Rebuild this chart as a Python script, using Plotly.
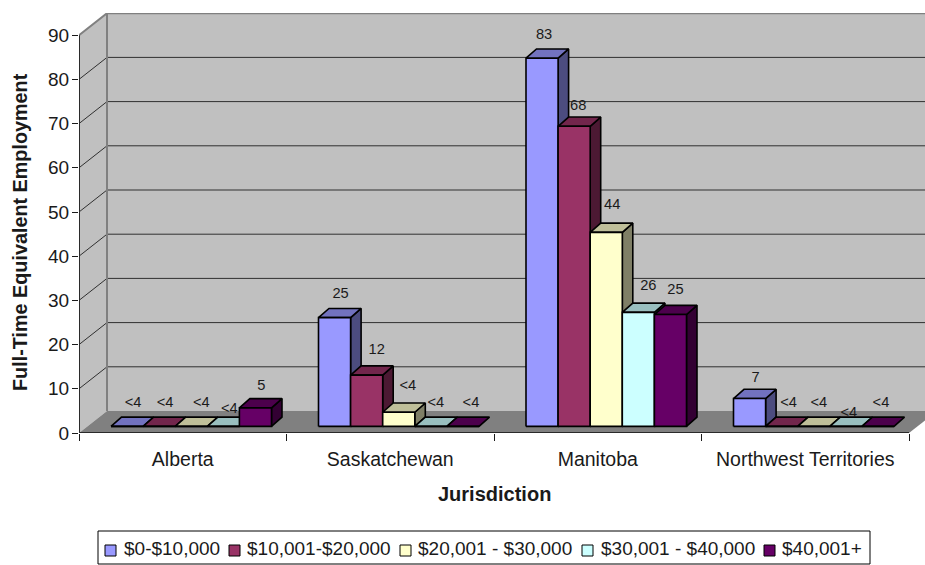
import plotly.graph_objects as go

# ---- data ----
categories = ["Alberta", "Saskatchewan", "Manitoba", "Northwest Territories"]
series_names = ["$0-$10,000", "$10,001-$20,000", "$20,001 - $30,000", "$30,001 - $40,000", "$40,001+"]
s1_values = [0, 24.6, 83.3, 6.3]
s2_values = [0, 11.6, 67.9, 0]
s3_values = [0, 3.2, 43.9, 0]
s4_values = [0, 0, 25.8, 0]
s5_values = [4.2, 0, 25.3, 0]
s1_labels = ["<4", "25", "83", "7"]
s2_labels = ["<4", "12", "68", "<4"]
s3_labels = ["<4", "<4", "44", "<4"]
s4_labels = ["<4", "<4", "26", "<4"]
s5_labels = ["5", "<4", "25", "<4"]
y_ticks = [0, 10, 20, 30, 40, 50, 60, 70, 80, 90]

# ---- styles ----
colors = ["#9999FF", "#993366", "#FFFFCC", "#CCFFFF", "#660066"]
FONT = "Liberation Sans, Arial, sans-serif"
INK = "#1a1a1a"

# ---- geometry (pixels of the page) ----
PX_L, PX_R, PX_T, PX_B = 79, 925, 13, 433
PX_PER_CAT = 207.5
PX_PER_UNIT = 4.42
WALL_DX = 28 / PX_PER_CAT
WALL_DY = 22 / PX_PER_UNIT
GROUP_OFF = 32 / PX_PER_CAT
BAR_W = 32.1 / PX_PER_CAT
BAR_DX = 10.5 / PX_PER_CAT
D0, D1 = 0.30, 0.72
N = len(categories)
x_max = (PX_R - PX_L) / PX_PER_CAT
y_max = (PX_B - PX_T) / PX_PER_UNIT


def px_x(px):
    return px / PX_PER_CAT


def px_y(px):
    return px / PX_PER_UNIT


def poly(points):
    return [p[0] for p in points] + [points[0][0], None], [p[1] for p in points] + [points[0][1], None]


fig = go.Figure()


def add_fill(xs, ys, fill, line=None, width=0, name=None):
    fig.add_trace(go.Scatter(x=xs, y=ys, mode="lines", fill="toself", fillcolor=fill,
                             line=dict(color=line or fill, width=width), hoverinfo="skip",
                             showlegend=False, name=name, cliponaxis=False))


def shade(hexcol, k):
    r, g, b = (int(hexcol[i:i + 2], 16) for i in (1, 3, 5))
    return f"rgb({int(r * k)},{int(g * k)},{int(b * k)})"


# walls and floor
top = y_ticks[-1]
xs, ys = poly([(0, 0), (WALL_DX, WALL_DY), (WALL_DX, top + WALL_DY), (0, top)])
add_fill(xs, ys, "#C0C0C0")
xs, ys = poly([(WALL_DX, WALL_DY), (N + WALL_DX, WALL_DY), (N + WALL_DX, top + WALL_DY), (WALL_DX, top + WALL_DY)])
add_fill(xs, ys, "#C0C0C0")
xs, ys = poly([(0, 0), (N, 0), (N + WALL_DX, WALL_DY), (WALL_DX, WALL_DY)])
add_fill(xs, ys, "#808080")

# gridlines
gx, gy = [], []
for v in y_ticks[1:-1]:
    gx += [0, WALL_DX, N + WALL_DX, None]
    gy += [v, v + WALL_DY, v + WALL_DY, None]
fig.add_trace(go.Scatter(x=gx, y=gy, mode="lines", line=dict(color="#303030", width=1),
                         hoverinfo="skip", showlegend=False, cliponaxis=False))
# wall edges
fig.add_trace(go.Scatter(x=[0, WALL_DX, N + WALL_DX, None, WALL_DX, WALL_DX],
                         y=[top, top + WALL_DY, top + WALL_DY, None, top + WALL_DY, WALL_DY],
                         mode="lines", line=dict(color="#808080", width=2),
                         hoverinfo="skip", showlegend=False, cliponaxis=False))
# axis lines
fig.add_trace(go.Scatter(x=[0, 0, None, 0, N], y=[0, top, None, 0, 0], mode="lines",
                         line=dict(color="#2a2a2a", width=2), hoverinfo="skip",
                         showlegend=False, cliponaxis=False))

# bars: painter's order, left to right
all_values = [s1_values, s2_values, s3_values, s4_values, s5_values]
all_labels = [s1_labels, s2_labels, s3_labels, s4_labels, s5_labels]
# per-label nudge of the text, px (right, up)
nudge_x = [[0, 0, -4, 0], [0, 4, -2, 1], [4, 3, 0, -1], [0, -1, 4, -3], [0, 2, -1, -3]]
nudge_y = [[0, 0, 0, -3], [0, 2, -3, 0], [0, 3, 4, 0], [-6, 0, 3, -10], [-2, 0, 1, 0]]

lab_x, lab_y, lab_t = [], [], []
for j, (vals, labs) in enumerate(zip(all_values, all_labels)):
    fx, fy, tx, ty, sx, sy = [], [], [], [], [], []
    for i, v in enumerate(vals):
        x0 = i + GROUP_OFF + j * BAR_W
        x1 = x0 + BAR_W
        b0 = D0 * WALL_DY
        b1 = D1 * WALL_DY
        p = poly([(x0, b0), (x1, b0), (x1, b0 + v), (x0, b0 + v)])
        fx += p[0]; fy += p[1]
        p = poly([(x0, b0 + v), (x1, b0 + v), (x1 + BAR_DX, b1 + v), (x0 + BAR_DX, b1 + v)])
        tx += p[0]; ty += p[1]
        if v > 0:
            p = poly([(x1, b0), (x1 + BAR_DX, b1), (x1 + BAR_DX, b1 + v), (x1, b0 + v)])
            sx += p[0]; sy += p[1]
        lab_x.append((x0 + x1) / 2 + px_x(6 + nudge_x[j][i]))
        lab_y.append(b1 + v + px_y(14 + nudge_y[j][i]))
        lab_t.append(labs[i])
    if sx:
        add_fill(sx, sy, shade(colors[j], 0.5), "#000000", 1.6)
    add_fill(tx, ty, shade(colors[j], 0.75), "#000000", 1.6)
    add_fill(fx, fy, colors[j], "#000000", 1.6, name=series_names[j])

fig.add_trace(go.Scatter(x=lab_x, y=lab_y, text=lab_t, mode="text", textposition="middle center",
                         textfont=dict(family=FONT, size=14.67, color=INK), hoverinfo="skip",
                         showlegend=False, cliponaxis=False))


def paper_x(px):
    return (px - PX_L) / (PX_R - PX_L)


def paper_y(py):
    return (PX_B - py) / (PX_B - PX_T)


shapes = [dict(type="rect", xref="paper", yref="paper", x0=paper_x(98), x1=paper_x(870),
               y0=paper_y(564), y1=paper_y(531), line=dict(color="#000000", width=1), fillcolor="white")]
annotations = [
    dict(text="<b>Jurisdiction</b>", xref="paper", yref="paper", x=paper_x(494.5), y=paper_y(494),
         showarrow=False, xanchor="center", yanchor="middle", font=dict(family=FONT, size=20, color=INK)),
    dict(text="<b>Full-Time Equivalent Employment</b>", xref="paper", yref="paper", x=paper_x(20),
         y=paper_y(232), textangle=-90, showarrow=False, xanchor="center", yanchor="middle",
         font=dict(family=FONT, size=19.8, color=INK)),
]
swatch_px = [105, 229, 400, 582, 764]
text_px = [124, 247, 418, 601, 782]
for name, col, sp, tp in zip(series_names, colors, swatch_px, text_px):
    shapes.append(dict(type="rect", xref="paper", yref="paper", x0=paper_x(sp), x1=paper_x(sp + 11),
                       y0=paper_y(556), y1=paper_y(545), fillcolor=col, line=dict(color="#000000", width=1)))
    annotations.append(dict(text=name, xref="paper", yref="paper", x=paper_x(tp), y=paper_y(548), showarrow=False,
                            xanchor="left", yanchor="middle", xshift=-2,
                            font=dict(family=FONT, size=19, color=INK)))

fig.update_layout(
    width=925, height=565, margin=dict(l=PX_L, r=925 - PX_R, t=PX_T, b=565 - PX_B),
    autosize=False, paper_bgcolor="white", plot_bgcolor="white", showlegend=False,
    shapes=shapes, annotations=annotations,
    xaxis=dict(range=[0, x_max], showgrid=False, zeroline=False, showline=False,
               tickmode="array", tickvals=[i + 0.5 for i in range(N)], ticktext=categories, ticks="",
               ticklabelstandoff=12, tickfont=dict(family=FONT, size=19.5, color=INK),
               minor=dict(tickmode="array", tickvals=list(range(N + 1)), ticks="outside", ticklen=7,
                          tickwidth=1, tickcolor=INK)),
    yaxis=dict(range=[0, y_max], showgrid=False, zeroline=False, showline=False,
               tickmode="array", tickvals=y_ticks, ticks="outside", ticklen=6, tickwidth=1, tickcolor=INK,
               ticklabelstandoff=-1, tickfont=dict(family=FONT, size=19, color=INK)),
)

fig.write_html("out.html", config={"displayModeBar": False},
               post_script="document.body.style.margin='0';document.body.style.overflow='hidden';")
